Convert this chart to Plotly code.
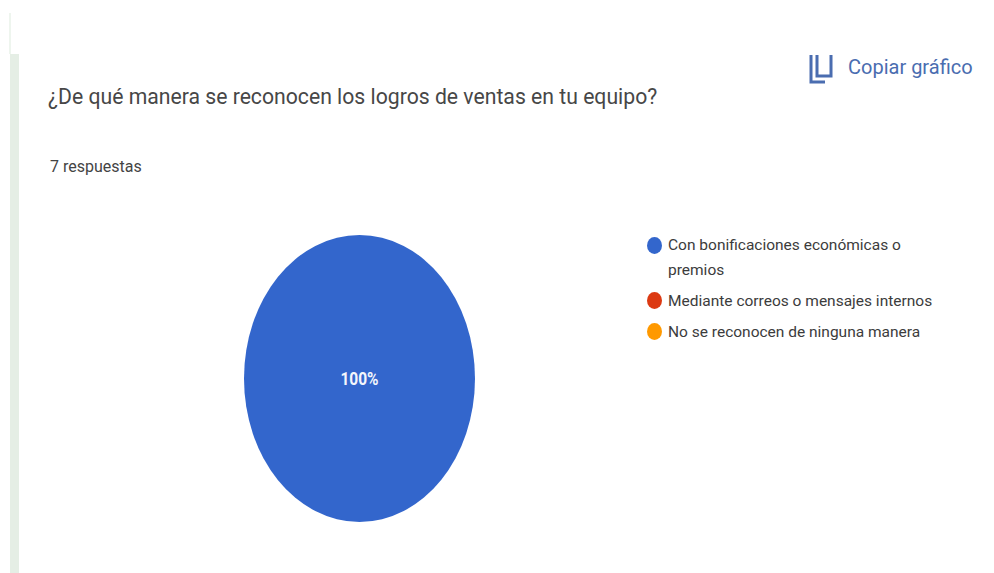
import plotly.graph_objects as go

W, H = 994, 573

# Survey question and answers
question = "¿De qué manera se reconocen los logros de ventas en tu equipo?"
responses_note = "7 respuestas"
copy_label = "Copiar gráfico"
answers = ["Con bonificaciones económicas o premios",
           "Mediante correos o mensajes internos",
           "No se reconocen de ninguna manera"]
answer_lines = [["Con bonificaciones económicas o", "premios"],
                ["Mediante correos o mensajes internos"],
                ["No se reconocen de ninguna manera"]]
answer_counts = [7, 0, 0]
answer_colors = ["#3366CC", "#DC3912", "#FF9900"]
legend_marker_y = [245, 300, 331]
legend_line_y = [[245, 270], [301], [332]]


def px(x):
    return x / W


def py(y):
    return 1 - y / H


# Pie box in page pixels; the drawing is stretched vertically afterwards
PIE_LEFT, PIE_RIGHT = 244, 475
PIE_CY = 378.5
PIE_D = PIE_RIGHT - PIE_LEFT
PIE_STRETCH = 287 / PIE_D

fig = go.Figure(go.Pie(
    labels=answers,
    values=answer_counts,
    marker=dict(colors=answer_colors, line=dict(width=0)),
    domain=dict(x=[px(PIE_LEFT), px(PIE_RIGHT)],
                y=[py(PIE_CY + PIE_D / 2), py(PIE_CY - PIE_D / 2)]),
    sort=False,
    textinfo="percent",
    textposition="inside",
    texttemplate="%{percent:.0%}",
    insidetextfont=dict(family="Roboto", size=15.5, color="#F4F6FC", weight=700),
    showlegend=False,
    hoverinfo="label+percent",
))


def text(x, y, s, size, color):
    fig.add_annotation(x=px(x), y=py(y), xref="paper", yref="paper", text=s, showarrow=False,
                       xanchor="left", yanchor="middle", align="left",
                       font=dict(family="Roboto", size=size, color=color))


text(46, 97, question, 21.2, "#474747")
text(48, 166, responses_note, 16, "#444444")
text(846, 67, copy_label, 20, "#4A6DB0")

# Legend rows: a dot followed by the answer text
for color, my, ys, lines in zip(answer_colors, legend_marker_y, legend_line_y, answer_lines):
    fig.add_shape(type="circle", xref="paper", yref="paper",
                  x0=px(647), x1=px(662), y0=py(my - 8), y1=py(my + 9),
                  fillcolor=color, line_width=0)
    for ty, line in zip(ys, lines):
        text(666, ty, line, 15.5, "#3C3C3C")

# Sidebar strip along the left edge
fig.add_shape(type="rect", xref="paper", yref="paper", x0=px(10), x1=px(19), y0=py(573), y1=py(54),
              fillcolor="#E5EEE5", line_width=0)
fig.add_shape(type="rect", xref="paper", yref="paper", x0=px(9), x1=px(11), y0=py(54), y1=py(13),
              fillcolor="#EEF5EE", line_width=0)


# Copy icon: open-topped page with a bracket behind it
def icon_path(points):
    return "M " + " L ".join(f"{px(x)} {py(y)}" for x, y in points)


for pts in ([(811, 55), (811, 82), (825, 82)], [(817, 55), (817, 76), (831, 76), (831, 55)]):
    fig.add_shape(type="path", xref="paper", yref="paper", path=icon_path(pts),
                  line=dict(color="#4A6DB0", width=3))

fig.update_layout(width=W, height=H, autosize=False, margin=dict(l=0, r=0, t=0, b=0),
                  paper_bgcolor="#FFFFFF", plot_bgcolor="#FFFFFF")

# Plotly keeps pies round, so the oval is applied to the pie layer after drawing
stretch_js = f"""
var layer = document.querySelector('.pielayer');
if (layer) {{
  layer.setAttribute('transform',
    'translate(0,{PIE_CY}) scale(1,{PIE_STRETCH}) translate(0,{-PIE_CY})');
}}
"""
fig.write_html("out.html", post_script=stretch_js, config=dict(displayModeBar=False))
